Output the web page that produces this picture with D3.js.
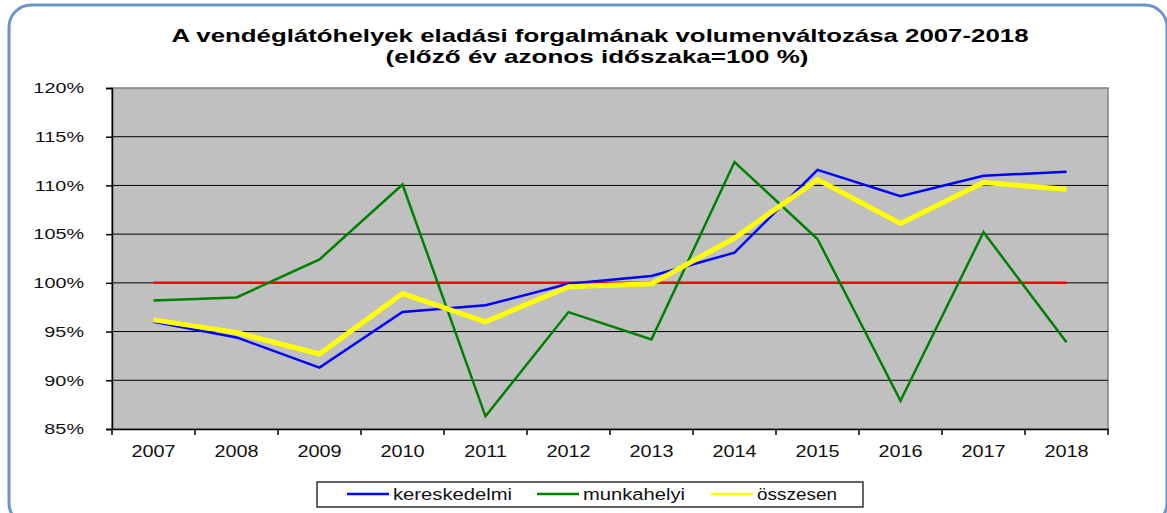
<!DOCTYPE html>
<html>
<head>
<meta charset="utf-8">
<script src="https://cdn.jsdelivr.net/npm/d3@7"></script>
<style>
  body { margin: 0; background: #fff; }
  svg { display: block; font-family: "Liberation Sans", Arial, sans-serif; }
</style>
</head>
<body>
<svg width="1167" height="513"></svg>
<script>
// chart data
var years = ['2007','2008','2009','2010','2011','2012','2013','2014','2015','2016','2017','2018'];
var kereskedelmi = [96.0, 94.4, 91.3, 97.0, 97.7, 99.9, 100.7, 103.1, 111.6, 108.9, 111.0, 111.4];
var munkahelyi   = [98.2, 98.5, 102.4, 110.1, 86.3, 97.0, 94.2, 112.4, 104.5, 87.9, 105.2, 93.9];
var osszesen     = [96.2, 94.9, 92.7, 98.9, 96.0, 99.6, 99.9, 104.6, 110.6, 106.1, 110.3, 109.6];
var bazis        = [100, 100, 100, 100, 100, 100, 100, 100, 100, 100, 100, 100];
var yTicks = [85, 90, 95, 100, 105, 110, 115, 120];

var svg = d3.select('svg');

// the original picture is stretched sideways, so widen texts a bit
function stretch(sel, f) {
    sel.each(function () {
        var w = this.getComputedTextLength();
        d3.select(this).attr('textLength', w * f).attr('lengthAdjust', 'spacingAndGlyphs');
    });
}

// outer frame
svg.append('rect')
    .attr('x', 9).attr('y', 5)
    .attr('width', 1158).attr('height', 520)
    .attr('rx', 22).attr('ry', 22)
    .attr('fill', 'none')
    .attr('stroke', '#6f94c9')
    .attr('stroke-width', 3);

// title
var t1 = svg.append('text')
    .attr('x', 600).attr('y', 42)
    .attr('text-anchor', 'middle')
    .style('font-size', '19px').style('font-weight', 'bold')
    .text('A vendéglátóhelyek eladási forgalmának volumenváltozása 2007-2018');
var t2 = svg.append('text')
    .attr('x', 597).attr('y', 63)
    .attr('text-anchor', 'middle')
    .style('font-size', '19px').style('font-weight', 'bold')
    .text('(előző év azonos időszaka=100 %)');
t1.attr('textLength', 857).attr('lengthAdjust', 'spacingAndGlyphs');
t2.attr('textLength', 423).attr('lengthAdjust', 'spacingAndGlyphs');

var pLeft = 112, pRight = 1108, pTop = 88, pBottom = 429;

var x = d3.scaleBand().domain(years).range([pLeft, pRight]);
var y = d3.scaleLinear().domain([85, 120]).range([pBottom, pTop]);

// plot area
svg.append('rect')
    .attr('x', pLeft).attr('y', pTop)
    .attr('width', pRight - pLeft).attr('height', pBottom - pTop)
    .attr('fill', '#c0c0c0')
    .attr('stroke', '#808080')
    .attr('stroke-width', 1.5);

// gridlines
svg.append('g')
    .selectAll('line')
    .data(yTicks.slice(1, -1))
    .enter()
    .append('line')
    .attr('x1', pLeft).attr('x2', pRight)
    .attr('y1', function (d) { return y(d); })
    .attr('y2', function (d) { return y(d); })
    .attr('stroke', '#000')
    .attr('stroke-width', 1);

// y axis
var yAxis = svg.append('g')
    .attr('transform', 'translate(' + pLeft + ',0)')
    .call(d3.axisLeft(y).tickValues(yTicks).tickSize(6).tickPadding(22)
        .tickFormat(function (d) { return d + '%'; }));
yAxis.select('.domain').attr('stroke', '#000').attr('stroke-width', 1.5);
yAxis.selectAll('.tick line').attr('stroke', '#000').attr('stroke-width', 1.5);
yAxis.selectAll('text')
    .style('font-size', '15px')
    .attr('fill', '#111')
    .attr('font-family', '"Liberation Sans", Arial, sans-serif');
stretch(yAxis.selectAll('text'), 1.32);

// x axis with ticks at category boundaries
var xAxis = svg.append('g')
    .attr('transform', 'translate(0,' + pBottom + ')')
    .call(d3.axisBottom(x).tickSize(0).tickPadding(17));
xAxis.select('.domain').attr('stroke', '#000').attr('stroke-width', 1.5);
xAxis.selectAll('text')
    .style('font-size', '16px')
    .attr('fill', '#111')
    .attr('font-family', '"Liberation Sans", Arial, sans-serif');
stretch(xAxis.selectAll('text'), 1.24);
xAxis.selectAll('.bound')
    .data(years.concat(['end']))
    .enter()
    .append('line')
    .attr('class', 'bound')
    .attr('x1', function (d, i) { return pLeft + i * x.bandwidth(); })
    .attr('x2', function (d, i) { return pLeft + i * x.bandwidth(); })
    .attr('y1', 0).attr('y2', 6)
    .attr('stroke', '#000')
    .attr('stroke-width', 1.5);

var line = d3.line()
    .x(function (d, i) { return x(years[i]) + x.bandwidth() / 2; })
    .y(function (d) { return y(d); });

var series = [
    { name: 'bazis', values: bazis, color: '#ff0000', width: 2.5 },
    { name: 'kereskedelmi', values: kereskedelmi, color: '#0000ff', width: 2.5 },
    { name: 'munkahelyi', values: munkahelyi, color: '#008000', width: 2.5 },
    { name: 'összesen', values: osszesen, color: '#ffff00', width: 5 }
];

svg.append('g')
    .selectAll('path')
    .data(series)
    .enter()
    .append('path')
    .attr('d', function (d) { return line(d.values); })
    .attr('fill', 'none')
    .attr('stroke', function (d) { return d.color; })
    .attr('stroke-width', function (d) { return d.width; })
    .attr('stroke-linejoin', 'miter');

// legend
var legend = svg.append('g');
legend.append('rect')
    .attr('x', 317).attr('y', 482)
    .attr('width', 546).attr('height', 25)
    .attr('fill', '#fff')
    .attr('stroke', '#000')
    .attr('stroke-width', 1.2);

var legendItems = [
    { label: 'kereskedelmi', color: '#0000ff', x: 347, w: 119 },
    { label: 'munkahelyi', color: '#008000', x: 537, w: 102 },
    { label: 'összesen', color: '#ffff00', x: 711, w: 80 }
];
var li = legend.selectAll('.item')
    .data(legendItems)
    .enter()
    .append('g')
    .attr('class', 'item')
    .attr('transform', function (d) { return 'translate(' + d.x + ',494)'; });
li.append('line')
    .attr('x1', 0).attr('x2', 42)
    .attr('stroke', function (d) { return d.color; })
    .attr('stroke-width', 2.5);
li.append('text')
    .attr('x', 46).attr('y', 6)
    .style('font-size', '16px')
    .attr('fill', '#111')
    .attr('textLength', function (d) { return d.w; })
    .attr('lengthAdjust', 'spacingAndGlyphs')
    .text(function (d) { return d.label; });
</script>
</body>
</html>
